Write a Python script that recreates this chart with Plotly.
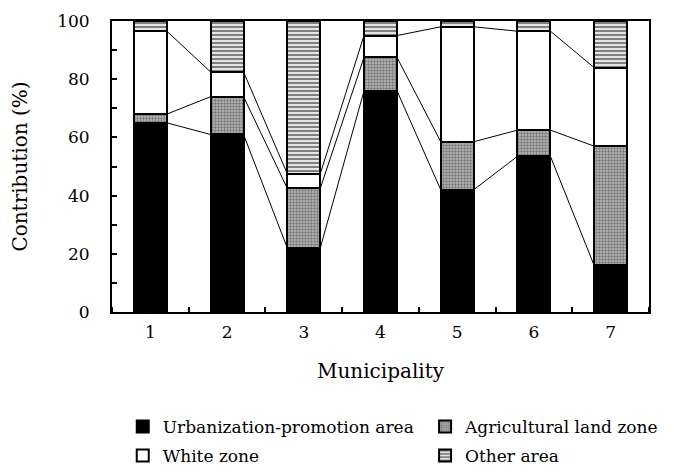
import numpy as np
import plotly.graph_objects as go

municipality = [1, 2, 3, 4, 5, 6, 7]
urbanization = [65, 61, 22, 76, 42, 53.5, 16]
agricultural = [3, 13, 20.5, 11.5, 16.5, 9, 41]
white_zone = [28.5, 8.5, 5, 7.5, 39.5, 34, 27]
other_area = [3.5, 17.5, 52.5, 5, 2, 3.5, 16]

BAR_W = 0.43
FONT = "DejaVu Serif, Liberation Serif, serif"
OUTLINE = dict(color="black", width=2)

fig = go.Figure()

fig.add_bar(x=municipality, y=urbanization, name="Urbanization-promotion area",
            legend="legend", legendgroup="u",
            marker=dict(color="black", line=OUTLINE), width=BAR_W)
fig.add_bar(x=municipality, y=agricultural, name="Agricultural land zone",
            legend="legend2", legendgroup="a",
            marker=dict(color="white", line=OUTLINE,
                        pattern=dict(shape=".", fgcolor="#333", bgcolor="#bbb",
                                     size=3, solidity=0.5)), width=BAR_W)
fig.add_bar(x=municipality, y=white_zone, name="White zone",
            legend="legend", legendgroup="w",
            marker=dict(color="white", line=OUTLINE), width=BAR_W)
fig.add_bar(x=municipality, y=other_area, name="Other area",
            legend="legend2", legendgroup="o",
            marker=dict(color="white", line=OUTLINE,
                        pattern=dict(shape="-", fgcolor="black", bgcolor="white",
                                     size=4, solidity=0.6)), width=BAR_W)

# series lines linking the top of each stacked segment between neighbouring bars
cum1 = np.array(urbanization)
cum2 = cum1 + np.array(agricultural)
cum3 = cum2 + np.array(white_zone)
for cum in (cum1, cum2, cum3):
    xs, ys = [], []
    for i in range(len(municipality) - 1):
        xs += [municipality[i] + BAR_W / 2, municipality[i + 1] - BAR_W / 2, None]
        ys += [cum[i], cum[i + 1], None]
    fig.add_scatter(x=xs, y=ys, mode="lines", line=dict(color="black", width=1),
                    showlegend=False, hoverinfo="skip")

legend_common = dict(orientation="v", y=-0.333, yanchor="top", xanchor="left",
                     traceorder="grouped", tracegroupgap=4, itemwidth=30,
                     font=dict(size=17), bgcolor="rgba(0,0,0,0)")

fig.update_layout(
    barmode="stack",
    width=658, height=458,
    margin=dict(l=104, r=17, t=13, b=154, autoexpand=False),
    paper_bgcolor="white", plot_bgcolor="white",
    font=dict(family=FONT, size=17, color="black"),
    legend=dict(x=0.02, **legend_common),
    legend2=dict(x=0.583, **legend_common),
)
fig.update_xaxes(
    range=[0.5, 7.5], tickvals=municipality, ticks="", tickfont=dict(size=17),
    ticklabelstandoff=4,
    showline=True, linecolor="black", linewidth=2, mirror=True,
    showgrid=False, zeroline=False,
    minor=dict(ticks="inside", tick0=0.5, dtick=1, ticklen=5, tickcolor="black", tickwidth=1.5),
    title=dict(text="Municipality", standoff=23),
)
fig.update_yaxes(
    range=[0, 100], dtick=20, ticks="inside", ticklen=5, tickcolor="black", tickwidth=1.5,
    tickfont=dict(size=17), ticklabelstandoff=17,
    showline=True, linecolor="black", linewidth=2, mirror=True,
    showgrid=False, zeroline=False,
    minor=dict(ticks="inside", dtick=10, ticklen=5, tickcolor="black", tickwidth=1.5),
    title=dict(text="Contribution (%)", standoff=30),
)

fig.write_html("out.html")
